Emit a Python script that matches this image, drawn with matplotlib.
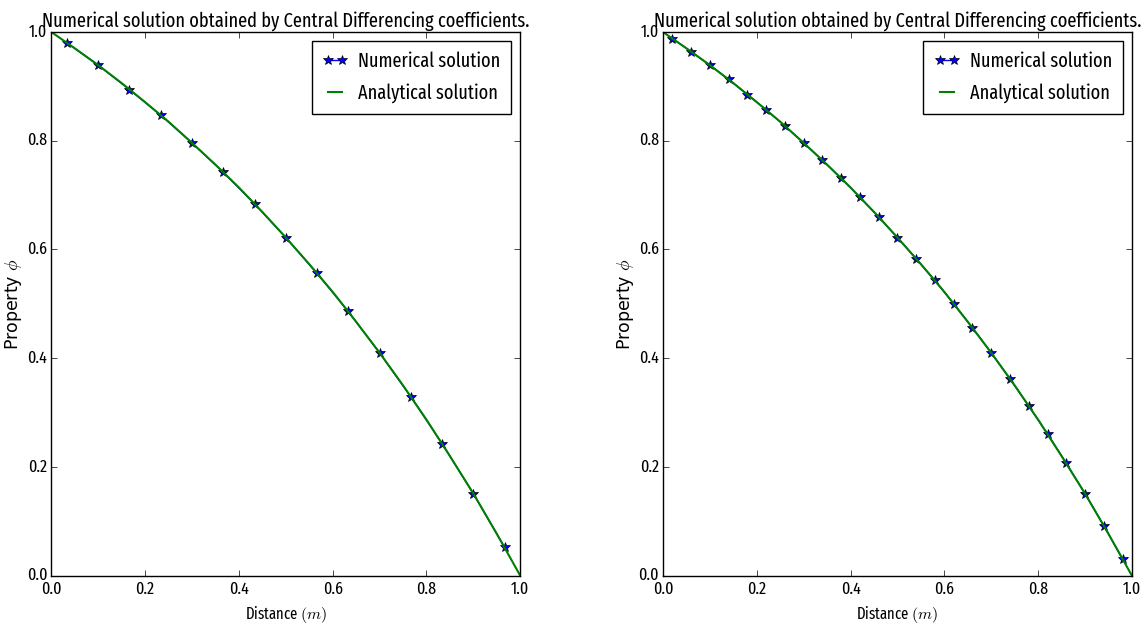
import os
import matplotlib
matplotlib.use('Agg')
import matplotlib.pyplot as plt
from matplotlib import font_manager
from matplotlib.textpath import TextPath


# Values (15 cell and 25 cell runs)
x15 = [0.0333, 0.1, 0.1667, 0.2333, 0.3, 0.3667, 0.4333, 0.5,
       0.5667, 0.6333, 0.7, 0.7667, 0.8333, 0.9, 0.9667]
phi15 = [0.980, 0.939, 0.894, 0.847, 0.796, 0.742, 0.684, 0.622,
         0.556, 0.486, 0.410, 0.329, 0.243, 0.151, 0.052]

x25 = [0.02, 0.06, 0.10, 0.14, 0.18, 0.22, 0.26, 0.30, 0.34, 0.38,
       0.42, 0.46, 0.50, 0.54, 0.58, 0.62, 0.66, 0.70, 0.74, 0.78,
       0.82, 0.86, 0.90, 0.94, 0.98]
phi25 = [0.988, 0.964, 0.939, 0.913, 0.885, 0.857, 0.827, 0.796, 0.764, 0.731,
         0.696, 0.660, 0.622, 0.583, 0.543, 0.500, 0.456, 0.410, 0.362, 0.312,
         0.261, 0.207, 0.151, 0.092, 0.031]

# analytical curve, read at steps of 0.05
xExact = [0.0, 0.05, 0.10, 0.15, 0.20, 0.25, 0.30, 0.35, 0.40, 0.45, 0.50,
          0.55, 0.60, 0.65, 0.70, 0.75, 0.80, 0.85, 0.90, 0.95, 1.0]
phiExact = [1.000, 0.970, 0.939, 0.906, 0.871, 0.835, 0.796, 0.756, 0.714, 0.669, 0.622,
            0.573, 0.522, 0.467, 0.410, 0.350, 0.287, 0.220, 0.151, 0.077, 0.000]

xTicks = [0.0, 0.2, 0.4, 0.6, 0.8, 1.0]
yTicks = [0.0, 0.2, 0.4, 0.6, 0.8, 1.0]

titleText = 'Numerical solution obtained by Central Differencing coefficients.'
xLabelText = r'Distance $(m)$'
yLabelText = r'Property $\phi$'


# the reference looks squashed sideways, so use a narrow face when there is one
def pick_narrow_font() :
	wanted = ['FiraSansExtraCondensed-Regular.ttf', 'RobotoCondensed-Regular.ttf',
	          'IBMPlexSansCondensed-Regular.ttf', 'LiberationSansNarrow-Regular.ttf',
	          'DejaVuSansCondensed.ttf']
	found = {}
	for f in font_manager.fontManager.ttflist :
		found[os.path.basename(f.fname)] = f.name
	for fileName in wanted :
		if fileName in found :
			return found[fileName]
	return 'DejaVu Sans'


# font size (pt) at which a text is about widthPx wide at 100 dpi, never above maxSize
def fit_size(text, widthPx, family, maxSize) :
	prop = font_manager.FontProperties(family=family)
	widthPt = TextPath((0, 0), text, size=10, prop=prop).get_extents().width
	size = 10.0 * (widthPx * 0.72) / widthPt
	return min(size, maxSize)


plt.style.use('classic')
narrowFont = pick_narrow_font()
plt.rcParams['font.family'] = [narrowFont, 'DejaVu Sans']
plt.rcParams['mathtext.fontset'] = 'cm'
plt.rcParams['figure.facecolor'] = 'white'

titleSize = fit_size(titleText, 485, narrowFont, 14.6)
legendSize = fit_size('Numerical solution', 139, narrowFont, 14.6)
tickSize = fit_size('0.2', 19.5, narrowFont, 12.5)
labelSize = fit_size(xLabelText, 79, narrowFont, 12.5)


def draw_panel(ax, xNum, phiNum) :
	ax.plot(xNum, phiNum, 'b*-', markersize=7.5, markeredgecolor='k', markeredgewidth=0.5,
	        label='Numerical solution')
	ax.plot(xExact, phiExact, 'g-', linewidth=1.5, label='Analytical solution')

	ax.set_xlim(0.0, 1.0)
	ax.set_ylim(0.0, 1.0)
	ax.set_xticks(xTicks)
	ax.set_yticks(yTicks)
	ax.tick_params(axis='both', labelsize=tickSize)
	ax.tick_params(axis='y', pad=3)
	ax.tick_params(axis='x', pad=4)

	ax.set_title(titleText, fontsize=titleSize, pad=3.5)
	ax.set_xlabel(xLabelText, fontsize=labelSize, labelpad=5)
	ax.set_ylabel(yLabelText, fontsize=12.5, family='DejaVu Sans')
	ax.yaxis.set_label_coords(-0.058, 0.5)

	leg = ax.legend(loc='upper right', fontsize=legendSize, numpoints=2, handlelength=1.3,
	                borderpad=0.55, labelspacing=0.6, handletextpad=0.5,
	                borderaxespad=0.45, fancybox=False, framealpha=1)
	leg.get_frame().set_edgecolor('black')


figure = plt.figure(figsize=(11.48, 6.31), dpi=100)
axLeft = figure.add_axes([0.0447, 0.0876, 0.4085, 0.8617])
axRight = figure.add_axes([0.5775, 0.0876, 0.4085, 0.8617])

draw_panel(axLeft, x15, phi15)
draw_panel(axRight, x25, phi25)

figure.savefig('out.png', dpi=100, facecolor='white')
